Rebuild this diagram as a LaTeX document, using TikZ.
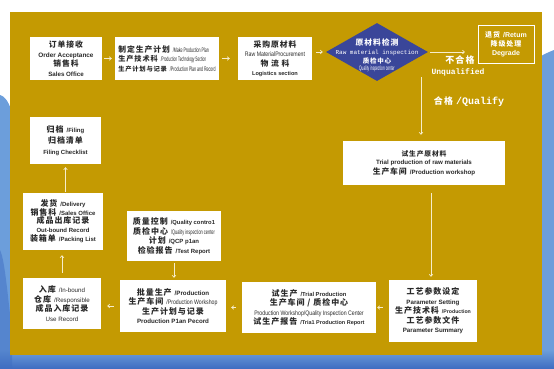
\documentclass[tikz,border=0pt]{standalone}
\usepackage{graphicx}
\usepackage{fontspec}
\setmainfont{Liberation Sans}
\newfontfamily\cjk[LetterSpace=12]{Noto Sans CJK SC}
\newfontfamily\mono{Liberation Mono}
\usetikzlibrary{shapes.geometric,arrows.meta}
\definecolor{gold}{HTML}{C49A02}
\definecolor{dblue}{HTML}{3A4699}
\definecolor{cream}{HTML}{F7EDCB}
\definecolor{ink}{HTML}{2A2A2A}
\definecolor{sky}{HTML}{6C9EDB}
\definecolor{dsky}{HTML}{3F6EC2}
\newcommand\zh[2][7.8]{{\cjk\bfseries\fontsize{#1}{#1}\selectfont #2}}
\newcommand\en[2][6]{{\bfseries\fontsize{#1}{#1}\selectfont #2}}
\newcommand\rn[2][6]{{\fontsize{#1}{#1}\selectfont #2}}
\newcommand\nar[2][0.7]{\scalebox{#1}[1]{\fontsize{6.5}{6.5}\selectfont #2}}
\newcommand\gp{\hspace{3pt}}
\begin{document}
\begin{tikzpicture}[x=1pt,y=-1pt,
  box/.style={fill=white,inner sep=0pt,align=center,text=ink,font=\fontsize{6}{9.5}\selectfont},
  arr/.style={draw=cream,line width=0.7pt,-{Straight Barb[length=2pt,width=3.5pt]}},
  wtxt/.style={text=white,inner sep=0pt,align=center,font=\fontsize{6}{9}\selectfont}]
\useasboundingbox (0,0) rectangle (554,368);
\fill[white] (0,0) rectangle (554,368);
% blue watercolour border
\fill[sky] (0,95) .. controls (4,96) and (8,100) .. (12,112) -- (12,368) -- (0,368) -- cycle;
\fill[sky] (538,58) .. controls (544,54) and (549,52) .. (554,50) -- (554,368) -- (538,368) -- cycle;
\shade[top color=sky,bottom color=dsky] (0,350) rectangle (554,368);
\fill[dsky,opacity=0.5] (0,250) .. controls (5,260) and (8,300) .. (12,330) -- (12,368) -- (0,368) -- cycle;
% gold panel
\fill[gold] (10,12) rectangle (542,355);

% top row
\node[box,minimum width=72,minimum height=43] (order) at (66,58.5)
  {\zh{订单接收}\\\en[6.4]{Order Acceptance}\\\zh{销售科}\\\en[6.2]{Sales Office}};
\node[box,align=left,minimum width=104,minimum height=43] (plan) at (167,58.5)
  {\zh[7.8]{制定生产计划}\gp\nar[0.55]{/Make Production Plan}\\
   \zh[7.2]{生产技术科}\gp\nar[0.5]{/Production Technology Section}\\
   \zh[6.3]{生产计划与记录}\gp\nar[0.55]{/Production Plan and Record}};
\node[box,minimum width=74,minimum height=43] (proc) at (275,58.5)
  {\zh{采购原材料}\\\nar[0.8]{Raw MaterialProcurement}\\\zh{物 流 科}\\\en[5.6]{Logistics section}};
\node[diamond,fill=dblue,minimum width=102,minimum height=58,inner sep=0pt,aspect=1.76] (insp) at (377,52) {};
\node[wtxt] (insptxt) at (377,55)
  {\zh[7.8]{原材料检测}\\{\mono\fontsize{6}{6}\selectfont Raw material inspection}\\\zh[6.5]{质检中心}\\[-2pt]\nar[0.5]{Quality inspection center}};
\node[draw=white,line width=0.8pt,minimum width=56,minimum height=38,wtxt] (ret) at (506,44)
  {\zh[7]{退货}\gp\en[7]{/Retum}\\\zh[7]{降级处理}\\\en[7]{Degrade}};
\coordinate (u) at (465,52);
\node[wtxt] (buhege) at (460,60) {\zh[9]{不合格}};
\node[wtxt] (unq) at (458,72) {{\mono\bfseries\fontsize{8}{8}\selectfont Unqualified}};
\coordinate (q0) at (421,77);
\node[wtxt] (qual) at (469,102) {\zh[9]{合格}\gp{\mono\bfseries\fontsize{10}{10}\selectfont /Qualify}};

% right column
\node[box,minimum width=162,minimum height=44] (trialraw) at (424,163)
  {\zh[6.8]{试生产原材料}\\[-1pt]\en[6.2]{Trial production of raw materials}\\\zh[7.8]{生产车间}\gp\en[6.2]{/Production workshop}};
\coordinate (p0) at (431,193);
\node[box,minimum width=88,minimum height=62] (param) at (433,311)
  {\zh[8]{工艺参数设定}\\\en[6.2]{Parameter Setting}\\\zh[8]{生产技术科}\gp\en[5.2]{/Production}\\\zh[8]{工艺参数文件}\\\en[6.2]{Parameter Summary}};

% bottom row
\node[box,minimum width=134,minimum height=51] (trialprod) at (309,307.5)
  {\zh[8]{试生产}\gp\en[5.8]{/Trial Production}\\\zh[8]{生产车间 / 质检中心}\\\nar[0.8]{Production Workshop/Quality Inspection Center}\\\zh[8]{试生产报告}\gp\en[5.5]{/Tria1 Production Report}};
\node[box,minimum width=106,minimum height=52] (batch) at (173,306)
  {\zh[8]{批量生产}\gp\en[6.2]{/Production}\\\zh[8]{生产车间}\gp\nar[0.8]{/Production Workshop}\\\zh[8]{生产计划与记录}\\\en[6.2]{Production P1an Pecord}};
\node[box,minimum width=94,minimum height=50] (qc) at (174,236)
  {\zh[8]{质量控制}\gp\en[5.8]{/Quality contro1}\\\zh[8]{质检中心}\gp\nar[0.6]{/Quality inspection center}\\\zh[8]{计划}\gp\en[6]{/QCP p1an}\\\zh[8]{检验报告}\gp\en[6]{/Test Report}};
\node[box,minimum width=78,minimum height=51] (inbound) at (62,303.5)
  {\zh[8]{入库}\gp\rn[6.2]{/In-bound}\\\zh[8]{仓库}\gp\rn[6.2]{/Responsible}\\\zh[8]{成品入库记录}\\\rn[6.2]{Use Record}};
\node[box,minimum width=80,minimum height=57] (delivery) at (63,221.5)
  {\zh[8]{发货}\gp\en{/Delivery}\\[-1pt]\zh[8]{销售科}\gp\en{/Sales Office}\\[-1pt]\zh[8]{成品出库记录}\\[-1pt]\en{Out-bound Record}\\\zh[8]{装箱单}\gp\en{/Packing List}};
\node[box,minimum width=71,minimum height=47] (filing) at (65.5,140.5)
  {\zh[8]{归档}\gp\en{/Filing}\\[1.5pt]\zh[8]{归档清单}\\[1.5pt]\en{Filing Checklist}};

% connectors
\draw[arr,shorten <=2,shorten >=3] (order) -- (plan);
\draw[arr,shorten <=3,shorten >=8] (plan) -- (proc);
\draw[arr,shorten <=4,shorten >=3] (proc.east |- insp.west) -- (insp.west);
\draw[arr,shorten <=2] (insp.east) -- (u);
\draw[arr,shorten >=6] (q0) -- (q0 |- trialraw.north);
\draw[arr,shorten >=3] (p0) -- (p0 |- param.north);
\draw[arr,shorten <=6,shorten >=1] (param.west |- trialprod.east) -- (trialprod.east);
\draw[arr,shorten <=6,shorten >=5] (trialprod.west) -- (trialprod.west -| batch.east);
\draw[arr,shorten <=6,shorten >=6] (batch.west) -- (batch.west -| inbound.east);
\draw[arr,shorten <=5,shorten >=5] (inbound.north) -- (inbound.north |- delivery.south);
\draw[arr,shorten <=1,shorten >=3] (filing.south |- delivery.north) -- (filing.south);
\draw[arr,shorten <=2,shorten >=2] (qc.south) -- (qc.south |- batch.north);
\end{tikzpicture}
\end{document}
